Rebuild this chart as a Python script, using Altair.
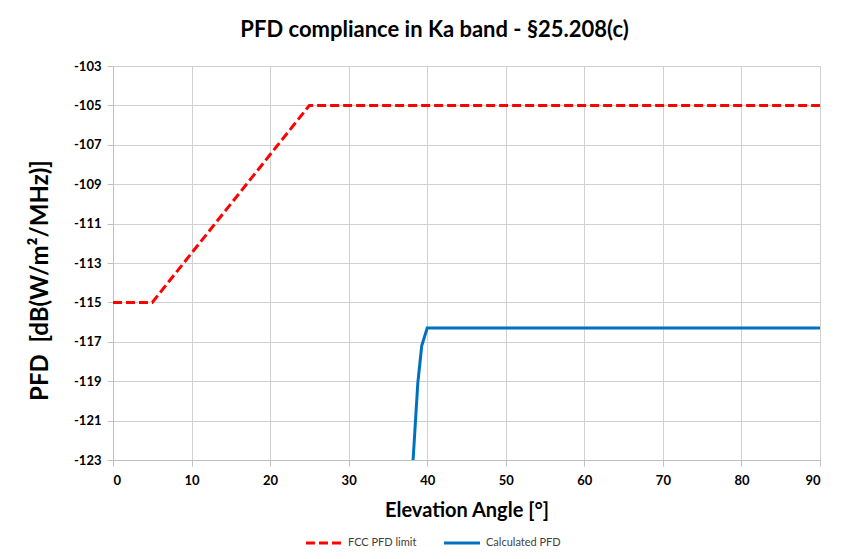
import altair as alt
import pandas as pd

fcc_x = [0, 5, 25, 90]
fcc_y = [-115, -115, -105, -105]
calc_x = [38.2, 38.8, 39.3, 40.0, 90]
calc_y = [-123, -119.1, -117.2, -116.3, -116.3]

series = ["FCC PFD limit", "Calculated PFD"]
colors = ["#FF0000", "#0070C0"]

df = pd.concat([
    pd.DataFrame({"x": fcc_x, "y": fcc_y, "s": series[0], "o": range(len(fcc_x))}),
    pd.DataFrame({"x": calc_x, "y": calc_y, "s": series[1], "o": range(len(calc_x))}),
])

FONT = "Lato"

chart = alt.Chart(df).mark_line(strokeWidth=3, clip=True).encode(
    x=alt.X("x:Q", scale=alt.Scale(domain=[0, 90], nice=False),
            axis=alt.Axis(values=list(range(0, 91, 10)), title="Elevation Angle [°]",
                          titleFontSize=20, titlePadding=13, labelPadding=8,
                          labelExpr="'' + datum.value")),
    y=alt.Y("y:Q", scale=alt.Scale(domain=[-123, -103], nice=False, zero=False),
            axis=alt.Axis(values=list(range(-123, -102, 2)), title="PFD\u00a0\u00a0[dB(W/m²/MHz)]",
                          titleFontSize=24, titlePadding=21, labelPadding=6,
                          titleY=214, labelExpr="'' + datum.value")),
    color=alt.Color("s:N", scale=alt.Scale(domain=series, range=colors),
                    sort=series,
                    legend=alt.Legend(title=None, orient="none", legendX=191, legendY=457,
                                      direction="horizontal", symbolType="stroke",
                                      symbolSize=1300, symbolStrokeWidth=3,
                                      labelFontSize=11, labelColor="#404040",
                                      labelFont=FONT, columnPadding=20, labelOffset=4,
                                      symbolDash=[8, 4])),
    strokeDash=alt.StrokeDash("s:N", scale=alt.Scale(domain=series, range=[[9, 4], [1, 0]]),
                              sort=series, legend=None),
    order="o:Q",
).properties(
    width=707, height=394,
    title=alt.Title("PFD compliance in Ka band - §25.208(c)", fontSize=22, font=FONT,
                    fontWeight="bold", dx=-32, offset=18, anchor="middle"),
    autosize=alt.AutoSizeParams(type="none"),
    padding={"left": 105, "top": 58, "right": 20, "bottom": 93},
).configure_axis(
    labelFont=FONT, titleFont=FONT, labelFontSize=13, labelFontWeight="bold",
    titleFontWeight="bold", labelColor="#000000", titleColor="#000000",
    gridColor="#D0D0D0", domainColor="#C0C0C0", tickColor="#C0C0C0", tickSize=6,
).configure_view(stroke="#D0D0D0")

chart.save("out.html", embed_options={"renderer": "svg", "actions": False})
